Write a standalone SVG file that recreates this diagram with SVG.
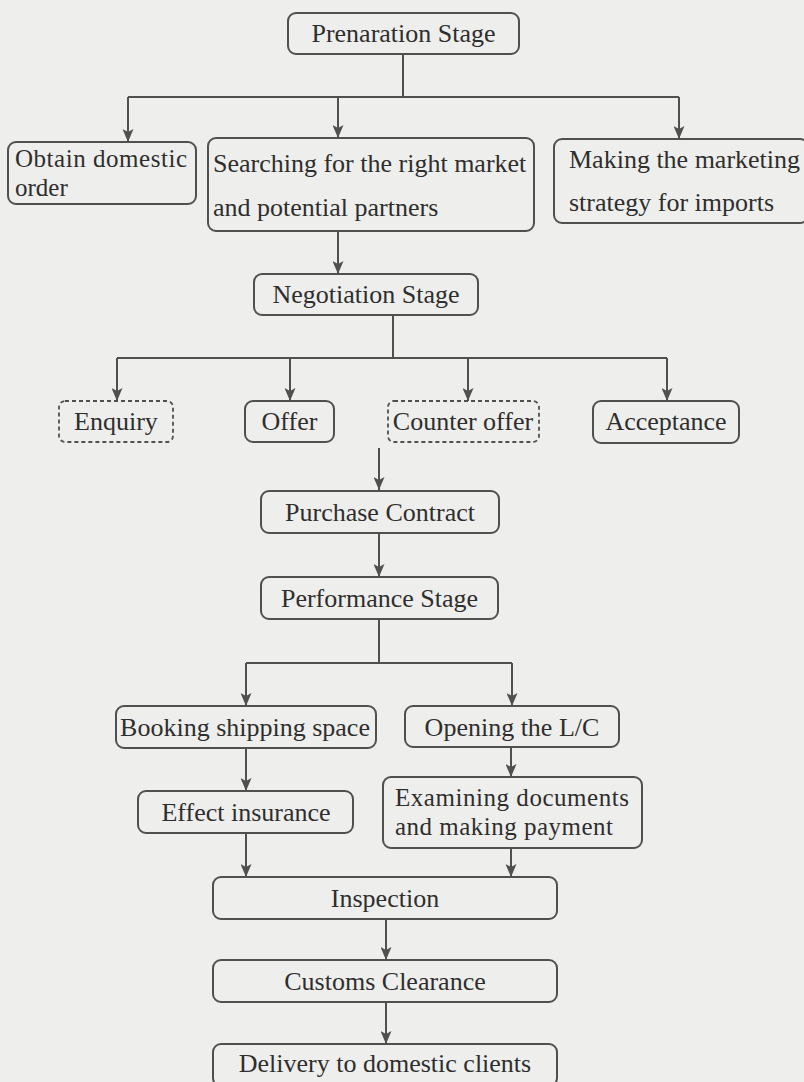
<svg xmlns="http://www.w3.org/2000/svg" width="804" height="1082" viewBox="0 0 804 1082">
<style>
.bg{fill:#eeeeec}
.box{fill:none;stroke:#505050;stroke-width:2}
.dash{fill:none;stroke:#505050;stroke-width:1.8;stroke-dasharray:4 3}
.t{font-family:"Liberation Serif","DejaVu Serif",serif;font-size:26px;fill:#2e2e2e}
.s{font-size:25px}
.m{text-anchor:middle}
.c{fill:none;stroke:#505050;stroke-width:2}
</style>
<defs>
<marker id="ah" viewBox="0 0 13 11" refX="13" refY="5.5" markerWidth="13" markerHeight="11" markerUnits="userSpaceOnUse" orient="auto">
<path d="M0,0 L13,5.5 L0,11 L3,5.5 z" fill="#505050"/>
</marker>
</defs>
<rect class="bg" x="0" y="0" width="804" height="1082"/>
<g id="connectors">
<path class="c" d="M403,54 V97"/>
<path class="c" d="M128,97 H679"/>
<path class="c" d="M128,97 V142" marker-end="url(#ah)"/>
<path class="c" d="M338,97 V138" marker-end="url(#ah)"/>
<path class="c" d="M679,97 V139" marker-end="url(#ah)"/>
<path class="c" d="M338,231 V274" marker-end="url(#ah)"/>
<path class="c" d="M393,315 V358"/>
<path class="c" d="M117,358 H667"/>
<path class="c" d="M117,358 V401" marker-end="url(#ah)"/>
<path class="c" d="M290,358 V401" marker-end="url(#ah)"/>
<path class="c" d="M468,358 V401" marker-end="url(#ah)"/>
<path class="c" d="M667,358 V401" marker-end="url(#ah)"/>
<path class="c" d="M379,448 V490" marker-end="url(#ah)"/>
<path class="c" d="M379,533 V577" marker-end="url(#ah)"/>
<path class="c" d="M379,619 V663"/>
<path class="c" d="M246,663 H512"/>
<path class="c" d="M246,663 V706" marker-end="url(#ah)"/>
<path class="c" d="M512,663 V706" marker-end="url(#ah)"/>
<path class="c" d="M246,748 V791" marker-end="url(#ah)"/>
<path class="c" d="M511,747 V777" marker-end="url(#ah)"/>
<path class="c" d="M246,833 V877" marker-end="url(#ah)"/>
<path class="c" d="M511,848 V877" marker-end="url(#ah)"/>
<path class="c" d="M386,919 V960" marker-end="url(#ah)"/>
<path class="c" d="M386,1002 V1044" marker-end="url(#ah)"/>
</g>
<g id="prep">
<rect class="box" x="288" y="13" width="231" height="41" rx="8"/>
<text class="t m" x="403.5" y="42">Prenaration Stage</text>
</g>
<g id="obtain">
<rect class="box" x="8" y="142" width="188" height="62" rx="8"/>
<text class="t s" x="15" y="167" textLength="172" lengthAdjust="spacing">Obtain domestic</text>
<text class="t s" x="15" y="196">order</text>
</g>
<g id="search">
<rect class="box" x="208" y="138" width="326" height="93" rx="8"/>
<text class="t" x="213" y="172">Searching for the right market</text>
<text class="t" x="213" y="216">and potential partners</text>
</g>
<g id="making">
<rect class="box" x="554" y="139" width="254" height="84" rx="8"/>
<text class="t" x="569" y="168">Making the marketing</text>
<text class="t" x="569" y="211">strategy for imports</text>
</g>
<g id="negotiation">
<rect class="box" x="254" y="274" width="224" height="41" rx="8"/>
<text class="t m" x="366" y="303">Negotiation Stage</text>
</g>
<g id="enquiry">
<rect class="dash" x="59" y="401" width="114" height="41" rx="6"/>
<text class="t m" x="116" y="430">Enquiry</text>
</g>
<g id="offer">
<rect class="box" x="245" y="401" width="89" height="41" rx="8"/>
<text class="t m" x="289.5" y="430">Offer</text>
</g>
<g id="counter">
<rect class="dash" x="388" y="401" width="151" height="41" rx="6"/>
<text class="t m" x="463" y="430">Counter offer</text>
</g>
<g id="acceptance">
<rect class="box" x="593" y="401" width="146" height="42" rx="8"/>
<text class="t m" x="666" y="430">Acceptance</text>
</g>
<g id="purchase">
<rect class="box" x="261" y="491" width="238" height="42" rx="8"/>
<text class="t m" x="380" y="520.5">Purchase Contract</text>
</g>
<g id="performance">
<rect class="box" x="261" y="577" width="237" height="42" rx="8"/>
<text class="t m" x="379.5" y="606.5">Performance Stage</text>
</g>
<g id="booking">
<rect class="box" x="116" y="706" width="260" height="42" rx="8"/>
<text class="t m" x="245" y="735.5">Booking shipping space</text>
</g>
<g id="opening">
<rect class="box" x="405" y="706" width="214" height="41" rx="8"/>
<text class="t m" x="512" y="735.5">Opening the L/C</text>
</g>
<g id="effect">
<rect class="box" x="138" y="791" width="215" height="42" rx="8"/>
<text class="t m" x="246" y="820.5">Effect insurance</text>
</g>
<g id="examining">
<rect class="box" x="383" y="777" width="259" height="71" rx="8"/>
<text class="t s" x="395" y="806" textLength="234" lengthAdjust="spacing">Examining documents</text>
<text class="t s" x="395" y="835" textLength="218" lengthAdjust="spacing">and making payment</text>
</g>
<g id="inspection">
<rect class="box" x="213" y="877" width="344" height="42" rx="8"/>
<text class="t m" x="385" y="906.5">Inspection</text>
</g>
<g id="customs">
<rect class="box" x="213" y="960" width="344" height="42" rx="8"/>
<text class="t m" x="385" y="989.5">Customs Clearance</text>
</g>
<g id="delivery">
<rect class="box" x="213" y="1044" width="344" height="42" rx="8"/>
<text class="t m" x="385" y="1072">Delivery to domestic clients</text>
</g>
</svg>
